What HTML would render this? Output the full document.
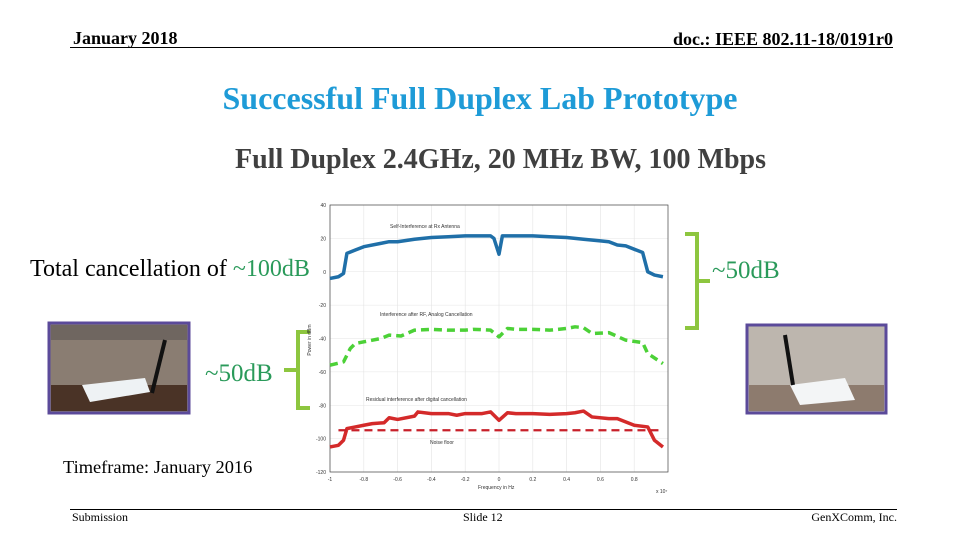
<!DOCTYPE html>
<html><head><meta charset="utf-8"><style>
body{margin:0;width:960px;height:540px;background:#fff;position:relative;overflow:hidden;font-family:"Liberation Serif",serif}
.a{position:absolute;white-space:nowrap}
</style></head><body>
<div class="a" style="left:73px;top:28px;font-size:18px;font-weight:bold">January 2018</div>
<div class="a" style="right:67px;top:29px;font-size:18px;font-weight:bold">doc.: IEEE 802.11-18/0191r0</div>
<div class="a" style="left:70px;top:47px;width:823px;height:1px;background:#000"></div>
<div class="a" style="left:0;width:960px;text-align:center;top:80px;font-size:32px;font-weight:bold;color:#1E9BD7">Successful Full Duplex Lab Prototype</div>
<div class="a" style="left:0;width:1001px;text-align:center;top:144px;font-size:28px;font-weight:bold;color:#404040">Full Duplex 2.4GHz, 20 MHz BW, 100 Mbps</div>
<div class="a" style="left:30px;top:256px;font-size:24px">Total cancellation of <span style="color:#2A9A5A">~100dB</span></div>
<div class="a" style="left:712px;top:257px;font-size:25px;color:#2A9A5A">~50dB</div>
<div class="a" style="left:205px;top:360px;font-size:25px;color:#2A9A5A">~50dB</div>
<div class="a" style="left:63px;top:457px;font-size:18.4px">Timeframe: January  2016</div>
<svg class="a" style="left:0;top:0" width="960" height="540">
<g stroke="#8DC63F" stroke-width="4" fill="none">
<path d="M685 234 H697 V328 H685 M697 281 H710"/>
<path d="M310 332 H298 V408 H310 M298 370 H284"/>
</g>
<g>
<rect x="49" y="323" width="140" height="90" fill="#8a7d72" stroke="#5B4A9A" stroke-width="3"/>
<rect x="51" y="325" width="136" height="15" fill="#6f6660"/>
<rect x="51" y="385" width="136" height="26" fill="#4a3326"/>
<polygon points="82,385 145,378 150,392 90,402" fill="#eef2f4"/>
<line x1="152" y1="393" x2="165" y2="340" stroke="#111" stroke-width="4"/>
</g>
<g>
<rect x="747" y="325" width="139" height="88" fill="#bdb6ae" stroke="#5B4A9A" stroke-width="3"/>
<rect x="749" y="385" width="135" height="26" fill="#8d7b6e"/>
<polygon points="790,385 845,378 855,400 800,405" fill="#f3f5f6"/>
<line x1="793" y1="385" x2="785" y2="335" stroke="#111" stroke-width="4"/>
</g>
</svg>
<svg id="chart" class="a" style="left:0;top:0" width="960" height="540"></svg>
<div class="a" style="left:70px;top:509px;width:827px;height:1px;background:#000"></div>
<div class="a" style="left:72px;top:510px;font-size:12px">Submission</div>
<div class="a" style="left:463px;top:510px;font-size:12px">Slide 12</div>
<div class="a" style="right:63px;top:510px;font-size:12px">GenXComm, Inc.</div>
<script>
const xTicks=[-1,-0.8,-0.6,-0.4,-0.2,0,0.2,0.4,0.6,0.8];
const xTickLabels=["-1","-0.8","-0.6","-0.4","-0.2","0","0.2","0.4","0.6","0.8"];
const yTicks=[40,20,0,-20,-40,-60,-80,-100,-120];
const blueX=[-1,-0.95,-0.92,-0.9,-0.85,-0.8,-0.7,-0.65,-0.6,-0.5,-0.4,-0.3,-0.2,-0.1,-0.05,-0.03,0,0.02,0.1,0.2,0.3,0.4,0.5,0.6,0.65,0.7,0.75,0.85,0.88,0.92,0.97];
const blueY=[-4,-3,-1,11,13,15,17,18,18,19.5,20.5,21,21.5,21.5,21.5,20,10.5,21.5,21.5,21.5,21,20.5,19.5,18.5,18,16,15.5,11.5,0,-2,-3];
const greenX=[-1,-0.92,-0.88,-0.85,-0.8,-0.7,-0.65,-0.58,-0.5,-0.4,-0.3,-0.2,-0.15,-0.05,0,0.05,0.1,0.2,0.3,0.4,0.45,0.5,0.55,0.65,0.75,0.82,0.85,0.88,0.97];
const greenY=[-56,-54,-46,-43,-42,-40,-38,-38.5,-35,-34.5,-35,-35,-34.5,-35,-39,-34,-34.5,-34.5,-35,-34,-33,-33.5,-37,-36.5,-41,-42,-42.5,-49,-55];
const redX=[-1,-0.95,-0.92,-0.9,-0.85,-0.8,-0.75,-0.68,-0.65,-0.6,-0.5,-0.48,-0.4,-0.3,-0.25,-0.2,-0.1,-0.05,0,0.05,0.1,0.2,0.3,0.4,0.45,0.5,0.55,0.65,0.7,0.8,0.88,0.92,0.97];
const redY=[-105,-104,-101,-94,-93,-92,-91,-90.5,-87.5,-88.5,-86.5,-84,-85,-85,-86,-85,-85,-84,-89,-84.5,-85,-85,-85.5,-85,-84.5,-83.5,-87,-88,-88,-92,-93,-101,-105];
const noiseX=[-0.95,0.97];
const noiseY=[-95,-95];
const NS='http://www.w3.org/2000/svg';
const svg=document.getElementById('chart');
const X0=330,X1=668,Y0=205,Y1=472;
const sx=v=>X0+(v+1)/2*(X1-X0);
const sy=v=>Y0+(40-v)/160*(Y1-Y0);
function mk(t,a){const e=document.createElementNS(NS,t);for(const k in a)e.setAttribute(k,a[k]);svg.appendChild(e);return e;}
const bg=mk('rect',{x:310,y:198,width:362,height:298,fill:'#fff'});


yTicks.forEach(t=>{
 const g=mk('line',{x1:X0,x2:X1,y1:sy(t),y2:sy(t),stroke:'#e4e4e4','stroke-width':0.6});
 
 
 const l=mk('text',{x:X0-4,y:sy(t)+2,'font-size':5,'text-anchor':'end',fill:'#333','font-family':'Liberation Sans, sans-serif'});l.textContent=t;
 
 
});
xTicks.forEach((t,i)=>{
 const g=mk('line',{x1:sx(t),x2:sx(t),y1:Y0,y2:Y1,stroke:'#e4e4e4','stroke-width':0.6});
 
 
 const l=mk('text',{x:sx(t),y:Y1+9,'font-size':5,'text-anchor':'middle',fill:'#333','font-family':'Liberation Sans, sans-serif'});l.textContent=xTickLabels[i];
 
 
});
const fr=mk('rect',{x:X0,y:Y0,width:X1-X0,height:Y1-Y0,fill:'none',stroke:'#444','stroke-width':0.7});


function line(xs,ys,col,w,dash,name){
 const p=mk('polyline',{points:xs.map((x,i)=>sx(x)+','+sy(ys[i])).join(' '),fill:'none',stroke:col,'stroke-width':w,'stroke-dasharray':dash||'none','stroke-linejoin':'round'});
 
 
}
line(blueX,blueY,'#1F6FA8',3.5,null,'self-interference-line');
line(greenX,greenY,'#4CD137',3.5,'8,5','analog-cancellation-line');
line(redX,redY,'#D42A2A',3.5,null,'digital-cancellation-line');
line(noiseX,noiseY,'#C8202A',2.2,'8,5','noise-floor-line');
const labels=[['Self-Interference at Rx Antenna',390,228,'si-label'],['Interference after RF, Analog Cancellation',380,316,'analog-label'],['Residual interference after digital cancellation',366,401,'digital-label'],['Noise floor',430,444,'noise-label'],['Frequency in Hz',478,489,'x-axis-title'],['x 10\u2077',656,493,'x-exponent']];
labels.forEach(a=>{const t=mk('text',{x:a[1],y:a[2],'font-size':5,fill:'#333','font-family':'Liberation Sans, sans-serif'});t.textContent=a[0];
 
 });
const yt=mk('text',{x:311,y:340,'font-size':5,fill:'#333','text-anchor':'middle',transform:'rotate(-90 311 340)','font-family':'Liberation Sans, sans-serif'});yt.textContent='Power in dBm';


</script>
</body></html>
